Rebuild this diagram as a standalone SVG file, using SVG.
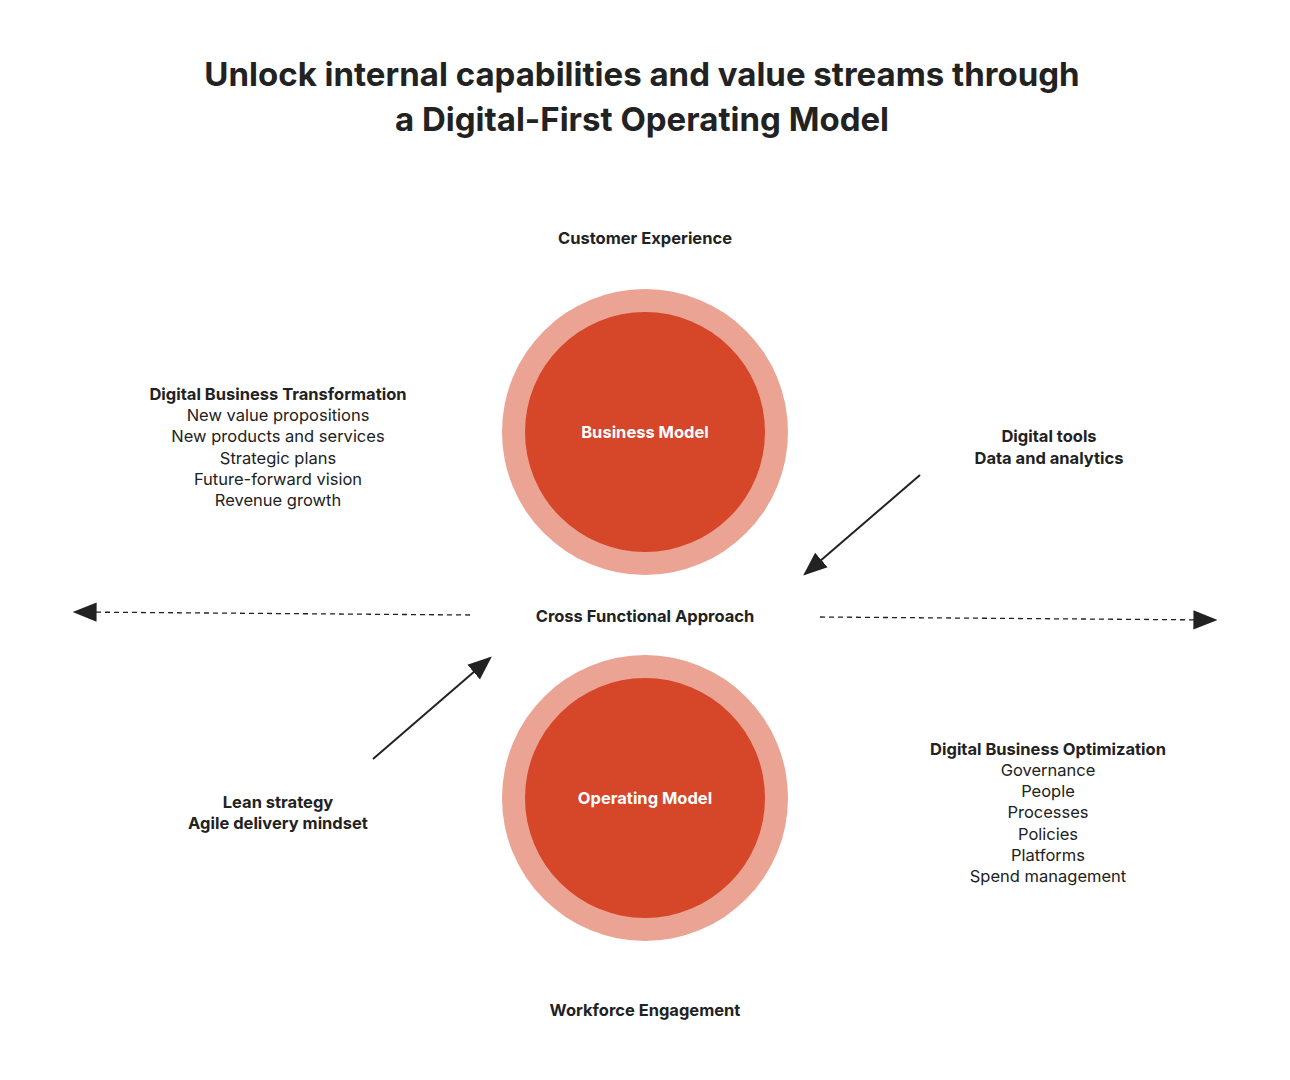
<svg xmlns="http://www.w3.org/2000/svg" width="1290" height="1080" viewBox="0 0 1290 1080">
<style>
text{font-family:"Inter","Liberation Sans",sans-serif;fill:#222;text-anchor:middle}
.t{font-size:33px;font-weight:700}
.b{font-size:16.5px;font-weight:700}
.r{font-size:16.5px}
.w{fill:#fff;font-size:16.5px;font-weight:700}
.o{fill:#EBA393}.i{fill:#D64629}
</style>
<defs>
<marker id="ah" viewBox="0 0 10 10" refX="9" refY="5" markerWidth="8" markerHeight="8" orient="auto-start-reverse" markerUnits="userSpaceOnUse"><path d="M0,0L10,5L0,10z" fill="#222"/></marker>
<marker id="ah2" viewBox="0 0 10 10" refX="9" refY="5" markerWidth="24" markerHeight="24" orient="auto-start-reverse" markerUnits="userSpaceOnUse"><path d="M0,1L10,5L0,9z" fill="#222"/></marker>
</defs>
<rect width="1290" height="1080" fill="#fff"/>
<text class="t" x="642" y="86">Unlock internal capabilities and value streams through</text>
<text class="t" x="642" y="131">a Digital-First Operating Model</text>
<text class="b" x="645" y="244">Customer Experience</text>
<text class="b" x="645" y="1016">Workforce Engagement</text>
<text class="b" x="645" y="622">Cross Functional Approach</text>
<g id="business-model"><circle class="o" cx="645" cy="432" r="143"/><circle class="i" cx="645" cy="432" r="120"/><text class="w" x="645" y="438">Business Model</text></g>
<g id="operating-model"><circle class="o" cx="645" cy="798" r="143"/><circle class="i" cx="645" cy="798" r="120"/><text class="w" x="645" y="804">Operating Model</text></g>
<g id="dbt"><text class="b" x="278" y="400">Digital Business Transformation</text>
<text class="r" x="278" y="421">New value propositions</text><text class="r" x="278" y="442">New products and services</text><text class="r" x="278" y="464">Strategic plans</text><text class="r" x="278" y="485">Future-forward vision</text><text class="r" x="278" y="506">Revenue growth</text></g>
<g id="tools"><text class="b" x="1049" y="442">Digital tools</text><text class="b" x="1049" y="464">Data and analytics</text></g>
<g id="lean"><text class="b" x="278" y="808">Lean strategy</text><text class="b" x="278" y="829">Agile delivery mindset</text></g>
<g id="dbo"><text class="b" x="1048" y="755">Digital Business Optimization</text>
<text class="r" x="1048" y="776">Governance</text><text class="r" x="1048" y="797">People</text><text class="r" x="1048" y="818">Processes</text><text class="r" x="1048" y="840">Policies</text><text class="r" x="1048" y="861">Platforms</text><text class="r" x="1048" y="882">Spend management</text></g>
<g id="connectors" stroke="#222" fill="none" stroke-width="1.3">
<path d="M470,615 L75,612" stroke-dasharray="5,4" marker-end="url(#ah2)"/>
<path d="M820,617 L1215,620" stroke-dasharray="5,4" marker-end="url(#ah2)"/>
<path d="M920,475 L805,574" stroke-width="2" marker-end="url(#ah2)"/>
<path d="M373,759 L490,658" stroke-width="2" marker-end="url(#ah2)"/>
</g>
</svg>
